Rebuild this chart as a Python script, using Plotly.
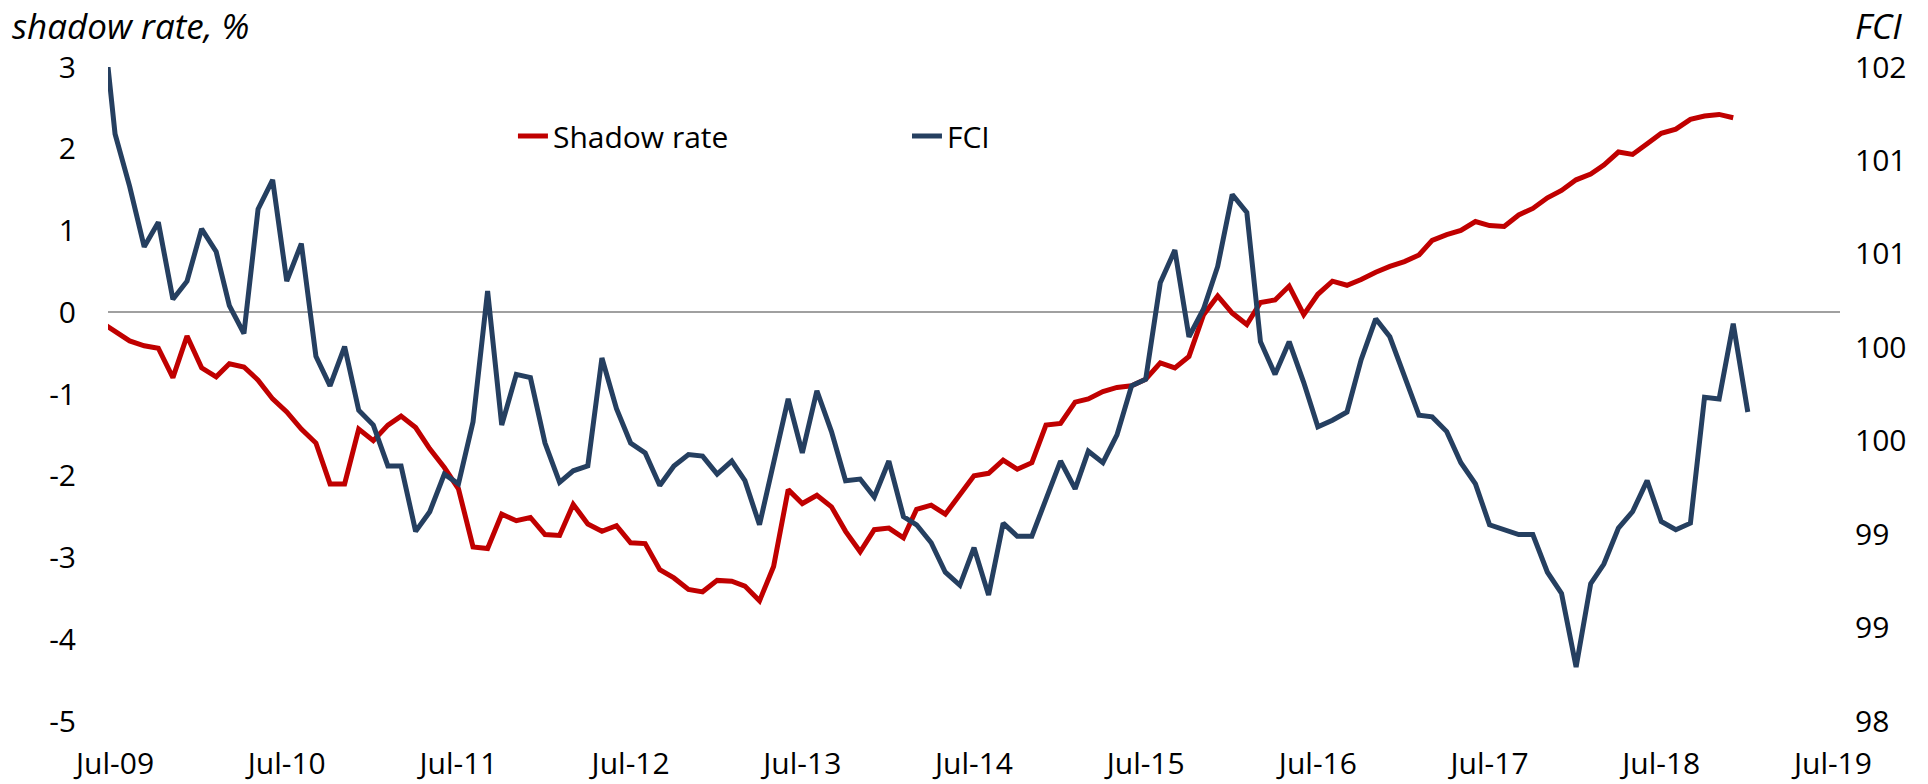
import plotly.graph_objects as go
import pandas as pd

# Monthly data, first point Jun-2009 (lies just outside the left edge of the axis)
series_start = "2009-06-01"

shadow_rate = [
    -0.12,
    -0.24, -0.35, -0.41, -0.44, -0.80, -0.29, -0.68, -0.79, -0.63, -0.67,
    -0.83, -1.06, -1.22, -1.43, -1.60, -2.10, -2.10, -1.43, -1.57, -1.38,
    -1.27, -1.41, -1.67, -1.90, -2.16, -2.87, -2.89, -2.47, -2.55, -2.51,
    -2.72, -2.73, -2.35, -2.59, -2.68, -2.61, -2.82, -2.83, -3.15, -3.25,
    -3.39, -3.42, -3.28, -3.29, -3.35, -3.53, -3.11, -2.17, -2.34, -2.24,
    -2.38, -2.68, -2.93, -2.66, -2.64, -2.76, -2.41, -2.36, -2.47, -2.23,
    -2.00, -1.97, -1.81, -1.92, -1.84, -1.38, -1.36, -1.10, -1.06, -0.97,
    -0.92, -0.90, -0.82, -0.62, -0.68, -0.54, -0.03, 0.20, -0.01, -0.15,
    0.12, 0.15, 0.32, -0.03, 0.22, 0.38, 0.33, 0.40, 0.49, 0.56,
    0.62, 0.70, 0.88, 0.95, 1.00, 1.11, 1.06, 1.05, 1.19, 1.27,
    1.40, 1.49, 1.62, 1.69, 1.80, 1.96, 1.93, 2.06, 2.19, 2.24,
    2.36, 2.40, 2.42, 2.38,
]

fci = [
    102.41,
    101.59, 101.27, 100.90, 101.05, 100.58, 100.69, 101.01, 100.87, 100.54, 100.37,
    101.13, 101.31, 100.69, 100.92, 100.23, 100.05, 100.29, 99.90, 99.81, 99.56,
    99.56, 99.16, 99.28, 99.51, 99.45, 99.83, 100.63, 99.81, 100.12, 100.10,
    99.70, 99.46, 99.53, 99.56, 100.22, 99.91, 99.70, 99.64, 99.44, 99.56,
    99.63, 99.62, 99.51, 99.59, 99.47, 99.20, 99.58, 99.97, 99.64, 100.02,
    99.77, 99.47, 99.48, 99.37, 99.59, 99.25, 99.20, 99.09, 98.91, 98.83,
    99.06, 98.77, 99.21, 99.13, 99.13, 99.35, 99.59, 99.42, 99.65, 99.58,
    99.75, 100.05, 100.09, 100.68, 100.88, 100.35, 100.52, 100.78, 101.22, 101.11,
    100.32, 100.12, 100.32, 100.07, 99.80, 99.84, 99.89, 100.21, 100.46, 100.35,
    100.12, 99.87, 99.86, 99.77, 99.58, 99.45, 99.20, 99.17, 99.14, 99.14,
    98.91, 98.78, 98.33, 98.84, 98.96, 99.18, 99.28, 99.47, 99.22, 99.17,
    99.21, 99.98, 99.97, 100.43, 99.89,
]

x_tick_dates = [f"{y}-07-01" for y in range(2009, 2020)]
left_tick_vals = [-5, -4, -3, -2, -1, 0, 1, 2, 3]
left_tick_text = ["-5", "-4", "-3", "-2", "-1", "0", "1", "2", "3"]
right_tick_vals = [98 + 4 * k / 7 for k in range(8)]

dates_sr = pd.date_range(series_start, periods=len(shadow_rate), freq="MS")
dates_fci = pd.date_range(series_start, periods=len(fci), freq="MS")

RED = "#C00000"
BLUE = "#253F60"
FONT = "Open Sans"

fig = go.Figure()
fig.add_trace(go.Scatter(
    x=dates_sr, y=shadow_rate, name="Shadow rate", mode="lines",
    line=dict(color=RED, width=5), yaxis="y", legend="legend",
))
fig.add_trace(go.Scatter(
    x=dates_fci, y=fci, name="FCI", mode="lines",
    line=dict(color=BLUE, width=5), yaxis="y2", legend="legend2",
))

fig.update_layout(
    width=1928, height=784, autosize=False,
    margin=dict(l=108, r=88, t=67, b=63),
    plot_bgcolor="white", paper_bgcolor="white",
    font=dict(family=FONT, size=30, color="black"),
    showlegend=True,
    legend=dict(x=0.2338, y=0.8945, xanchor="left", yanchor="middle",
                bgcolor="rgba(0,0,0,0)", font=dict(size=30, color="black")),
    legend2=dict(x=0.4613, y=0.8945, xanchor="left", yanchor="middle",
                 bgcolor="rgba(0,0,0,0)", font=dict(size=30, color="black")),
    xaxis=dict(
        type="date", range=["2009-06-16", "2019-07-16"],
        tickmode="array", tickvals=x_tick_dates, tickformat="%b-%y",
        showgrid=False, showline=False, zeroline=False, ticks="",
        automargin=False,
        ticklabelstandoff=22, tickfont=dict(size=30, color="black"),
    ),
    yaxis=dict(
        range=[-5, 3], tickmode="array", tickvals=left_tick_vals, ticktext=left_tick_text,
        showgrid=False, showline=False, ticks="", automargin=False,
        zeroline=True, zerolinecolor="#A0A0A0", zerolinewidth=2,
        ticklabelstandoff=31, tickfont=dict(size=30, color="black"),
    ),
    yaxis2=dict(
        range=[98, 102], overlaying="y", side="right",
        tickmode="array", tickvals=right_tick_vals, tickformat=".0f",
        showgrid=False, showline=False, zeroline=False, ticks="", automargin=False,
        ticklabelstandoff=14, tickfont=dict(size=30, color="black"),
    ),
    annotations=[
        dict(text="<i>shadow rate, %</i>", xref="paper", yref="paper",
             x=-0.0566, y=1.1024, xanchor="left", yanchor="top",
             showarrow=False, font=dict(family=FONT, size=35, color="black")),
        dict(text="<i>FCI</i>", xref="paper", yref="paper",
             x=1.0075, y=1.1024, xanchor="left", yanchor="top",
             showarrow=False, font=dict(family=FONT, size=35, color="black")),
    ],
)

fig.write_html("out.html", config={"displayModeBar": False},
               post_script="document.body.style.margin='0';")
